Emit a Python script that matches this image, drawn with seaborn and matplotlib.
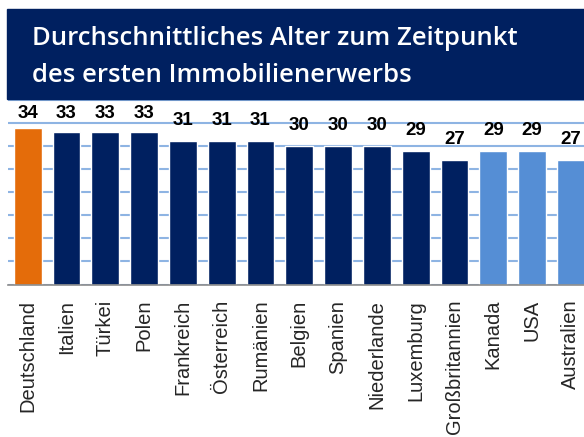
import matplotlib
matplotlib.use("Agg")
import matplotlib.pyplot as plt
import seaborn as sns
import pandas as pd
import numpy as np
from matplotlib.patches import Rectangle

# Daten
laender = [
    "Deutschland", "Italien", "Türkei", "Polen", "Frankreich", "Österreich",
    "Rumänien", "Belgien", "Spanien", "Niederlande", "Luxemburg",
    "Großbritannien", "Kanada", "USA", "Australien",
]
alter = [34, 33, 33, 33, 31, 31, 31, 30, 30, 30, 29, 27, 29, 29, 27]
gruppe = ["Deutschland"] + ["Europa"] * 11 + ["Übersee"] * 3

titel = ["Durchschnittliches Alter zum Zeitpunkt", "des ersten Immobilienerwerbs"]

farben = {"Deutschland": "#E46C0A", "Europa": "#002060", "Übersee": "#558ED5"}
navy = "#002060"
grid_farbe = "#8EB4E3"
achse_farbe = "#8C8C8C"

df = pd.DataFrame({"land": laender, "alter": alter, "gruppe": gruppe})

sns.set_style("white")
plt.rcParams["font.family"] = ["Liberation Sans", "DejaVu Sans"]

W, H = 584, 437
fig = plt.figure(figsize=(W / 100, H / 100), dpi=100)
ax = fig.add_axes([8.3 / W, (H - 284.5) / H, 15 * 38.8 / W, 184.6 / H])

sns.barplot(
    data=df,
    x="land",
    y="alter",
    hue="gruppe",
    palette=farben,
    dodge=False,
    width=0.72,
    legend=False,
    saturation=1,
    ax=ax,
)

ax.set_xlim(-0.5, len(laender) - 0.5)
ax.set_ylim(0, 40)
ax.set_yticks(range(0, 41, 5))
ax.set_yticklabels([])
ax.tick_params(axis="y", length=0)
ax.grid(axis="y", color=grid_farbe, linewidth=1.5)
ax.set_axisbelow(True)

for s in ["left", "right", "top"]:
    ax.spines[s].set_visible(False)
ax.spines["bottom"].set_color(achse_farbe)
ax.spines["bottom"].set_linewidth(1.2)

ax.set_xticks(np.arange(-0.5, len(laender), 1), minor=True)
ax.tick_params(axis="x", which="minor", length=4.3, width=1.2, color=achse_farbe)
ax.tick_params(axis="x", which="major", length=0, pad=11)
ax.set_xticklabels(laender, rotation=90, fontsize=14.5)
ax.set_xlabel("")
ax.set_ylabel("")

# Wertebeschriftung
for i, v in enumerate(alter):
    ax.text(i, min(v + 3.5, 36.1), str(v), ha="center", va="baseline",
            fontsize=13.5, fontweight="bold", color="black")

# Titelbalken
fig.patches.append(Rectangle((7 / W, 1 - 99 / H), 1, 90 / H,
                             transform=fig.transFigure, color=navy, zorder=5))
for zeile, basis in zip(titel, [45, 82]):
    fig.text(31.7 / W, 1 - basis / H, zeile, color="white", fontsize=18.5,
             fontweight="semibold", family=["Open Sans", "DejaVu Sans"],
             va="baseline", zorder=6)

fig.savefig("out.png", dpi=100)
